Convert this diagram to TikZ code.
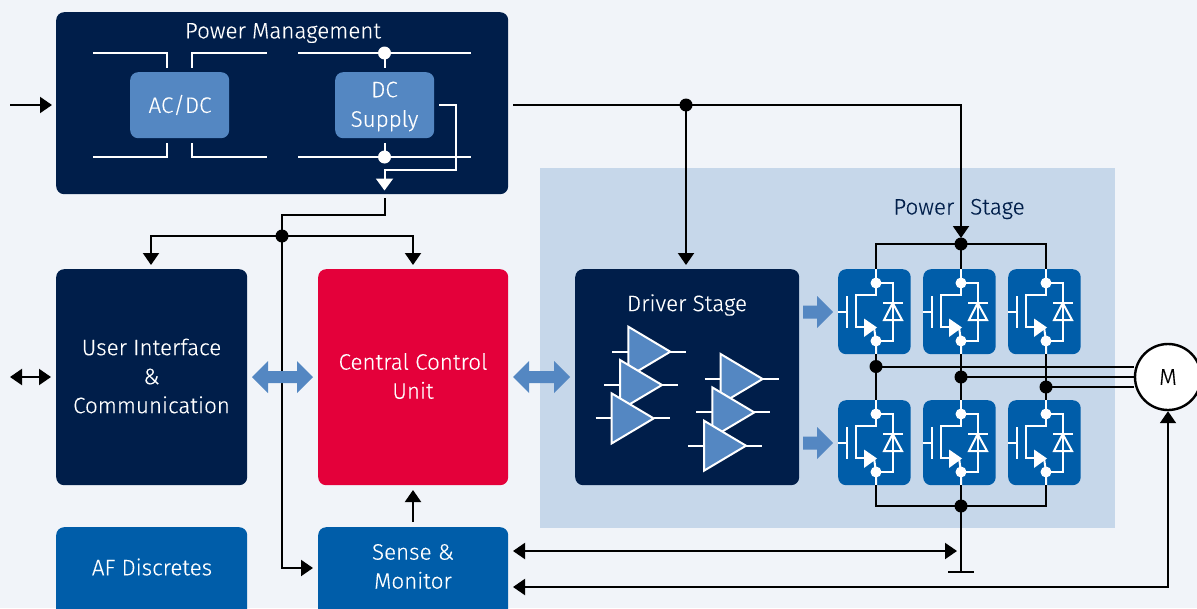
\documentclass[tikz,border=0pt]{standalone}
\usepackage{fontspec}
\setmainfont{Fira Sans Light}[FakeBold=0.25]
\usetikzlibrary{arrows.meta,positioning,calc}
\definecolor{bgc}{HTML}{F1F4F9}
\definecolor{panelc}{HTML}{C6D7EA}
\definecolor{navy}{HTML}{001E4A}
\definecolor{midblue}{HTML}{005DA9}
\definecolor{lightb}{HTML}{5487C2}
\definecolor{redc}{HTML}{E4003A}
\tikzset{
  x=1pt,y=-1pt,
  block/.style={anchor=north west,inner sep=0pt,rounded corners=8pt},
  title/.style={inner sep=0pt,align=center,font=\fontsize{22.4}{29}\selectfont},
  conn/.style={draw=black,line width=2pt},
  arr/.style={conn,-{Triangle[length=12pt,width=16pt]}},
  darr/.style={conn,{Triangle[length=12pt,width=16pt]}-{Triangle[length=12pt,width=16pt]}},
  wline/.style={draw=white,line width=2pt},
  jdot/.style={circle,fill=black,inner sep=0pt,minimum size=13pt},
  wdot/.style={circle,fill=white,inner sep=0pt,minimum size=13pt},
  amp/.pic={
    \draw[wline] (-16,25)--(0,25);
    \draw[wline] (42,25)--(58,25);
    \draw[wline,fill=lightb,line join=miter] (0,0)--(0,50)--(42,25)--cycle;
  },
  igbt/.pic={
    \node[anchor=north west,inner sep=0pt,minimum width=72.5pt,minimum height=85pt,fill=midblue,rounded corners=8pt] (-box) at (0,0) {};
    \coordinate (-top) at (38,0);
    \coordinate (-bot) at (38,85);
    \coordinate (-gate) at (0,43);
    \draw[wline] (38,0)--(38,26)--(18,26)--(18,58)--(30,58);
    \draw[wline] (36,58)--(38,72)--(38,85);
    \draw[wline] (38,14)--(54.7,14)--(54.7,72)--(38,72);
    \draw[wline] (0,43)--(9,43);
    \draw[wline] (9,27)--(9,59);
    \fill[white] (26,49.5)--(26,68)--(39,58.5)--cycle;
    \draw[wline] (45,33.5)--(65,33.5);
    \draw[wline,line join=miter] (54.7,34)--(46,51)--(64,51)--cycle;
    \node[wdot,minimum size=11pt] at (38,14) {};
    \node[wdot,minimum size=11pt] at (38,72) {};
  }
}
\begin{document}
\begin{tikzpicture}
\path[use as bounding box] (0,0) rectangle (1197,608);
\clip (0,0) rectangle (1197,608);
\fill[bgc] (0,0) rectangle (1197,608);
\fill[panelc] (540,168) rectangle (1115,528);

% blocks
\node[block,fill=navy,minimum width=452pt,minimum height=182pt] (pm) at (56,12) {};
\node[title,text=white] (pmt) at (283,33) {Power Management};
\node[block,fill=lightb,minimum width=99pt,minimum height=66pt] (acdc) at (130,72) {};
\node[title,text=white] (acdct) at (180,105) {AC/DC};
\node[block,fill=lightb,minimum width=99pt,minimum height=66pt] (dc) at (335,72) {};
\node[title,text=white] (dct) at (384.5,106.5) {DC\\[0.5pt]Supply};
\node[block,fill=navy,minimum width=191pt,minimum height=216pt] (ui) at (56,269) {};
\node[title,text=white] (uit) at (151.5,376) {User Interface\\\&\\Communication};
\node[block,fill=redc,minimum width=190pt,minimum height=216pt] (ccu) at (318,269) {};
\node[title,text=white] (ccut) at (413,376) {Central Control\\Unit};
\node[block,fill=navy,minimum width=224pt,minimum height=216pt] (drv) at (575,269) {};
\node[title,text=white] (drvt) at (687,305) {Driver Stage};
\node[block,fill=midblue,minimum width=191pt,minimum height=100pt] (af) at (56,527) {};
\node[title,text=white] (aft) at (152,567) {AF Discretes};
\node[block,fill=midblue,minimum width=190pt,minimum height=100pt] (sm) at (318,527) {};
\node[title,text=white] (smt) at (413,566.5) {Sense \&\\Monitor};
\node[title,text=navy] (pst) at (959,209) {Power\hspace{16pt}Stage};

% named points
\coordinate (inL) at (10,105);
\coordinate (inR) at (52,105);
\coordinate (pmout) at (513,105);
\coordinate (pmb) at (385,198);
\node[jdot] (j1) at (686,105) {};
\node[jdot] (j2) at (282,236) {};
\node[jdot] (j3) at (961,244) {};
\node[jdot] (j4) at (961,506) {};
\coordinate (gnd) at (961,572);
\coordinate (psin) at (961,238);
\coordinate (uil) at (10,377);
\coordinate (uir) at (51,377);

% white wiring in power management
\draw[wline] (93,53)--(167,53)--(167,68);
\draw[wline] (192,68)--(192,53)--(267,53);
\draw[wline] (93,157)--(167,157)--(167,143);
\draw[wline] (192,143)--(192,157)--(267,157);
\draw[wline] (298,53)--(471,53);
\draw[wline] (298,157)--(471,157);
\node[wdot] (w1) at (384.5,53) {};
\node[wdot] (w2) at (384.5,157) {};
\draw[wline] (w1.center)--(384.5,68);
\draw[wline] (384.5,143)--(w2.center);
\draw[wline,-{Triangle[length=12pt,width=17pt]}] (439,105)--(456,105)--(456,170)--(384.5,170)--(384.5,190.5);

% black connectors
\draw[arr] (inL)--(inR);
\draw[arr] (pmout)--(j1.center)--(961,105)--(psin);
\draw[arr] (j1.center)--(686,265);
\draw[conn] (pmb)--(385,215)--(282,215)--(j2.center);
\draw[arr] (j2.center)--(151,236)--(151,265);
\draw[arr] (j2.center)--(413,236)--(413,265);
\draw[arr] (j2.center)--(282,568)--(313,568);
\draw[darr] (uil)--(uir);
\draw[arr] (413,522)--(413,490);

% bidirectional block arrows
\fill[lightb] (252,377)--(268,361)--(268,371)--(297,371)--(297,361)--(313,377)--(297,393)--(297,383)--(268,383)--(268,393)--cycle;
\fill[lightb] (513,377)--(529,361)--(529,371)--(554,371)--(554,361)--(570,377)--(554,393)--(554,383)--(529,383)--(529,393)--cycle;
\fill[lightb] (803,305.5)--(817,305.5)--(817,296)--(833,312)--(817,328)--(817,318.5)--(803,318.5)--cycle;
\fill[lightb] (803,436.5)--(817,436.5)--(817,427)--(833,443)--(817,459)--(817,449.5)--(803,449.5)--cycle;

% amplifiers
\foreach \ax/\ay in {628.3/326.7,620/360,611.7/393.4,720.6/354,712.3/387.4,704/420.7}
  \pic at (\ax,\ay) {amp};

% power switches
\pic (q1) at (838,269) {igbt};
\pic (q2) at (923,269) {igbt};
\pic (q3) at (1008,269) {igbt};
\pic (q4) at (838,400) {igbt};
\pic (q5) at (923,400) {igbt};
\pic (q6) at (1008,400) {igbt};

\node[jdot] (m1) at (876,366.5) {};
\node[jdot] (m2) at (961,377) {};
\node[jdot] (m3) at (1046,387) {};
\node[circle,draw=black,fill=white,line width=2.4pt,minimum size=66pt,inner sep=0pt,font=\fontsize{23}{24}\selectfont] (mot) at (1168,377) {M};

% rails
\draw[conn] (q1-top)--(876,244)--(j3.center)--(1046,244)--(q3-top);
\draw[conn] (j3.center)--(q2-top);
\draw[conn] (q4-bot)--(876,506)--(j4.center)--(1046,506)--(q6-bot);
\draw[conn] (j4.center)--(q5-bot);
\draw[conn] (q1-bot)--(m1.center)--(q4-top);
\draw[conn] (q2-bot)--(m2.center)--(q5-top);
\draw[conn] (q3-bot)--(m3.center)--(q6-top);
\draw[conn] (m1.center)--(mot.west |- m1);
\draw[conn] (m2.center)--(mot.west);
\draw[conn] (m3.center)--(mot.west |- m3);
\draw[conn] (j4.center)--(gnd);
\draw[conn] (948,572)--(974,572);
\draw[darr] (513,551)--(957,551);
\draw[conn,{Triangle[length=12pt,width=16pt]}-{Triangle[length=12pt,width=16pt]}] (513,587)--(1168,587)--(mot.south);
\end{tikzpicture}
\end{document}
